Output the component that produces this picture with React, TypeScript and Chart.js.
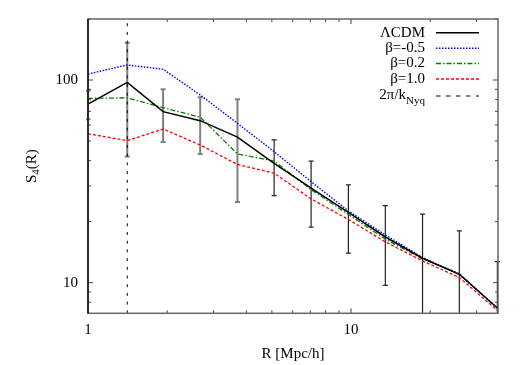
import React, { useEffect, useRef } from "react";
import { Chart, registerables } from "chart.js";

Chart.register(...registerables);

// ---- data ----
const rValues = [1, 1.41, 1.93, 2.67, 3.7, 5.1, 7.05, 9.77, 13.5, 18.7, 25.8, 36.0];
const lcdm = [76, 97.4, 69.8, 63, 52.3, 38.8, 29.3, 22.2, 16.8, 13.2, 11.0, 7.5];
const betaM05 = [107, 118.6, 113, 84.4, 61.1, 44.3, 31.5, 22.6, 17.2, 13.3, 11.0, 7.5];
const beta02 = [81.2, 81.6, 73, 65.5, 43.2, 39.8, 28.8, 21.7, 16.4, 13.1, 11.1, 7.45];
const beta10 = [54.3, 50.2, 57.3, 47.8, 38.3, 34.7, 25.9, 20.5, 15.9, 12.8, 10.6, 7.3];
const errHigh = [88.5, 152.8, 90, 82.2, 80.3, 50.6, 39.8, 30.4, 24.0, 21.8, 18.0, 12.7];
const errLow = [64, 41.9, 49.5, 43.2, 25.0, 26.9, 18.8, 14.0, 9.7, 5.5, 5.0, 4.0];
const nyquistR = 1.41;
const seriesLabels = ["ΛCDM", "β=-0.5", "β=0.2", "β=1.0"];
const nyquistLabel = ["2π/k", "Nyq"];
const xTicks = [1, 2, 3, 4, 5, 6, 7, 8, 9, 10, 20, 30];
const xLabelled = [1, 10];
const yTicks = [8, 9, 10, 20, 30, 40, 50, 60, 70, 80, 90, 100, 200];
const yLabelled = [10, 100];
const xRange = [1, 36.2];
const yRange = [7.06, 200];

const FONT = "'Liberation Serif', 'DejaVu Serif', serif";

const pts = (ys: number[]) => ys.map((y, i) => ({ x: rValues[i], y }));

export default function App() {
  const ref = useRef<HTMLCanvasElement | null>(null);
  useEffect(() => {
    if (!ref.current) return;

    const framePlugin = {
      id: "framePlugin",
      beforeDatasetsDraw(chart: any) {
        const { ctx, chartArea: a, scales } = chart;
        const xs = scales.x, ys = scales.y;
        ctx.save();
        ctx.beginPath();
        ctx.rect(a.left - 2, a.top, a.right - a.left + 4, a.bottom - a.top);
        ctx.clip();
        // error bars
        rValues.forEach((r, i) => {
          const px = xs.getPixelForValue(r);
          const pt = ys.getPixelForValue(errHigh[i]);
          const pb = ys.getPixelForValue(errLow[i]);
          const grey = i < 5;
          ctx.strokeStyle = grey ? "#808080" : "#222";
          ctx.lineWidth = grey ? 2 : 1.2;
          ctx.beginPath();
          ctx.moveTo(px, pt);
          ctx.lineTo(px, pb);
          ctx.moveTo(px - 2.5, pt);
          ctx.lineTo(px + 2.5, pt);
          ctx.moveTo(px - 2.5, pb);
          ctx.lineTo(px + 2.5, pb);
          ctx.stroke();
        });
        ctx.restore();
      },
      afterDraw(chart: any) {
        const { ctx, chartArea: a, scales } = chart;
        const xs = scales.x, ys = scales.y;
        ctx.save();
        // ticks (inward, mirrored)
        ctx.strokeStyle = "#444";
        ctx.lineWidth = 1;
        xTicks.forEach((v) => {
          const px = xs.getPixelForValue(v);
          const len = xLabelled.includes(v) ? 5 : 3;
          ctx.beginPath();
          ctx.moveTo(px, a.bottom);
          ctx.lineTo(px, a.bottom - len);
          ctx.moveTo(px, a.top);
          ctx.lineTo(px, a.top + len);
          ctx.stroke();
        });
        yTicks.forEach((v) => {
          const py = ys.getPixelForValue(v);
          if (py < a.top - 0.5) return;
          const len = yLabelled.includes(v) ? 5 : 3;
          ctx.beginPath();
          ctx.moveTo(a.left, py);
          ctx.lineTo(a.left + len, py);
          ctx.moveTo(a.right, py);
          ctx.lineTo(a.right - len, py);
          ctx.stroke();
        });
        // frame
        ctx.strokeStyle = "#666";
        ctx.lineWidth = 1.5;
        ctx.strokeRect(a.left, a.top, a.right - a.left, a.bottom - a.top);
        ctx.strokeStyle = "#111";
        ctx.beginPath();
        ctx.moveTo(a.left, a.top);
        ctx.lineTo(a.left, a.bottom);
        ctx.stroke();

        // legend
        ctx.fillStyle = "#000";
        ctx.textBaseline = "middle";
        const textRight = 425;
        const sx0 = 436, sx1 = 479;
        const rowY = [32.7, 48.3, 63.5, 79, 96];
        chart.data.datasets.forEach((ds: any, i: number) => {
          const y = rowY[i];
          ctx.font = `15px ${FONT}`;
          let dash = ds.borderDash || [];
          if (i < 4) {
            ctx.textAlign = "right";
            ctx.fillText(ds.label, textRight, y);
          } else {
            ctx.font = `11px ${FONT}`;
            const subW = ctx.measureText(nyquistLabel[1]).width;
            ctx.textAlign = "right";
            ctx.fillText(nyquistLabel[1], textRight, y + 5);
            ctx.font = `15px ${FONT}`;
            ctx.fillText(nyquistLabel[0], textRight - subW, y - 1);
            dash = [4.5, 5.5];
          }
          ctx.strokeStyle = ds.borderColor;
          ctx.lineWidth = ds.borderWidth;
          ctx.setLineDash(dash);
          ctx.beginPath();
          ctx.moveTo(sx0, y);
          ctx.lineTo(sx1, y);
          ctx.stroke();
          ctx.setLineDash([]);
        });

        // axis titles
        ctx.textAlign = "center";
        ctx.textBaseline = "middle";
        ctx.font = `15px ${FONT}`;
        ctx.fillText("R [Mpc/h]", (a.left + a.right) / 2, 354);
        ctx.save();
        ctx.translate(32, (a.top + a.bottom) / 2);
        ctx.rotate(-Math.PI / 2);
        ctx.font = `15px ${FONT}`;
        const wS = ctx.measureText("S").width;
        ctx.font = `11px ${FONT}`;
        const w4 = ctx.measureText("4").width;
        ctx.font = `15px ${FONT}`;
        const wR = ctx.measureText("(R)").width;
        const total = wS + w4 + wR;
        let cx = -total / 2;
        ctx.textAlign = "left";
        ctx.fillText("S", cx, 0);
        cx += wS;
        ctx.font = `11px ${FONT}`;
        ctx.fillText("4", cx, 4);
        cx += w4;
        ctx.font = `15px ${FONT}`;
        ctx.fillText("(R)", cx, 0);
        ctx.restore();
        ctx.restore();
      },
    };

    const chart = new Chart(ref.current, {
      type: "line",
      data: {
        datasets: [
          { label: seriesLabels[0], data: pts(lcdm), borderColor: "#000000", borderWidth: 1.5, pointRadius: 0, borderDash: [] },
          { label: seriesLabels[1], data: pts(betaM05), borderColor: "#0000ff", borderWidth: 1.4, pointRadius: 0, borderDash: [1.5, 1.5] },
          { label: seriesLabels[2], data: pts(beta02), borderColor: "#008000", borderWidth: 1.3, pointRadius: 0, borderDash: [5, 2, 1.5, 2] },
          { label: seriesLabels[3], data: pts(beta10), borderColor: "#ff0000", borderWidth: 1.3, pointRadius: 0, borderDash: [3, 2] },
          {
            label: nyquistLabel.join(""),
            data: [
              { x: nyquistR, y: yRange[0] },
              { x: nyquistR, y: yRange[1] },
            ],
            borderColor: "#000000",
            borderWidth: 1,
            pointRadius: 0,
            borderDash: [3, 5.7],
          },
        ],
      },
      options: {
        responsive: false,
        animation: false,
        events: [],
        layout: { padding: { left: 0, right: 24, top: 19, bottom: 0 } },
        plugins: { legend: { display: false }, tooltip: { enabled: false } },
        scales: {
          x: {
            type: "logarithmic",
            min: xRange[0],
            max: xRange[1],
            grid: { display: false, drawTicks: false },
            border: { display: false },
            afterBuildTicks: (s: any) => {
              s.ticks = xTicks.map((v) => ({ value: v }));
            },
            afterFit: (s: any) => {
              s.height = 51.7;
            },
            ticks: {
              autoSkip: false,
              maxRotation: 0,
              padding: 8,
              color: "#000",
              font: { family: FONT, size: 15 },
              callback: (v: any) => (xLabelled.includes(Number(v)) ? String(v) : ""),
            },
          },
          y: {
            type: "logarithmic",
            min: yRange[0],
            max: yRange[1],
            grid: { display: false, drawTicks: false },
            border: { display: false },
            afterBuildTicks: (s: any) => {
              s.ticks = yTicks.map((v) => ({ value: v }));
            },
            afterFit: (s: any) => {
              s.width = 88;
            },
            ticks: {
              autoSkip: false,
              padding: 10,
              color: "#000",
              font: { family: FONT, size: 15 },
              callback: (v: any) => (yLabelled.includes(Number(v)) ? String(v) : ""),
            },
          },
        },
      },
      plugins: [framePlugin],
    });
    return () => chart.destroy();
  }, []);

  return (
    <div style={{ position: "absolute", left: 0, top: 0, width: 522, height: 365, background: "#fff" }}>
      <canvas ref={ref} width={522} height={365} style={{ display: "block" }} />
    </div>
  );
}
